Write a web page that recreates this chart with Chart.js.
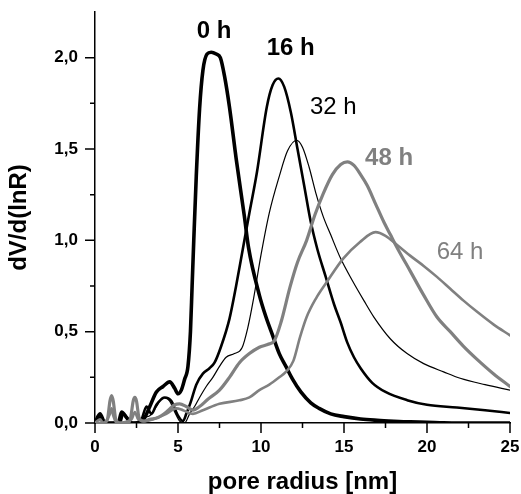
<!DOCTYPE html>
<html><head><meta charset="utf-8">
<script src="https://cdn.jsdelivr.net/npm/chart.js@4"></script>
<style>html,body{margin:0;padding:0;background:#fff;}canvas{display:block;}</style>
</head><body>
<canvas id="c" width="521" height="494"></canvas>
<script>
// ---- data (pore radius [nm] -> dV/d(lnR)) ----
const seriesNames = ['0 h', '16 h', '32 h', '48 h', '64 h'];

const r0h = [0, 0.3, 0.6, 1.4, 1.6, 1.9, 2.2, 2.7, 3.0, 3.3, 3.7, 4.1, 4.5, 4.8, 5.0, 5.2, 5.4, 5.6, 5.75, 5.85, 5.95, 6.1, 6.3, 6.5, 6.75, 7.0, 7.3, 7.55, 7.8, 8.1, 8.5, 9.0, 9.25, 9.9, 10.3, 10.7, 11.1, 11.5, 11.9, 12.4, 13.0, 13.5, 14.2, 15, 16, 17, 18, 19, 20, 21, 22, 25];
const v0h = [0, 0.05, 0.0, 0.0, 0.06, 0.03, 0.0, 0.0, 0.03, 0.09, 0.17, 0.2, 0.225, 0.19, 0.16, 0.18, 0.24, 0.31, 0.5, 0.75, 1.0, 1.35, 1.72, 1.93, 2.02, 2.03, 2.02, 2.0, 1.9, 1.73, 1.45, 1.13, 0.96, 0.7, 0.58, 0.48, 0.38, 0.31, 0.24, 0.17, 0.11, 0.08, 0.05, 0.035, 0.022, 0.015, 0.01, 0.006, 0.004, 0.001, 0, 0];

const r16h = [0, 0.3, 0.6, 1.5, 1.7, 2.0, 2.3, 2.8, 3.1, 3.4, 3.7, 4.2, 4.6, 5.0, 5.3, 5.5, 5.75, 6.1, 6.5, 6.9, 7.2, 7.6, 8.1, 8.5, 8.9, 9.3, 9.75, 10.35, 10.7, 11.05, 11.4, 11.8, 12.2, 12.6, 13.0, 13.4, 13.9, 14.4, 14.8, 15.2, 15.6, 16.0, 16.7, 17.5, 18.8, 20, 21.8, 23.5, 25];
const v16h = [0, 0.03, 0, 0, 0.05, 0.02, 0, 0.02, 0.09, 0.05, 0.1, 0.14, 0.12, 0.04, 0.01, 0.05, 0.11, 0.21, 0.27, 0.3, 0.33, 0.42, 0.57, 0.75, 0.95, 1.15, 1.37, 1.73, 1.85, 1.886, 1.84, 1.7, 1.5, 1.3, 1.1, 0.95, 0.8, 0.65, 0.55, 0.44, 0.36, 0.3, 0.22, 0.17, 0.125, 0.1, 0.085, 0.07, 0.055];

const r32h = [0, 0.3, 0.6, 2.5, 2.9, 3.3, 3.7, 4.1, 4.5, 4.8, 5.1, 5.4, 5.7, 6.0, 6.3, 6.7, 7.1, 7.5, 7.9, 8.4, 8.85, 9.2, 9.55, 10.0, 10.5, 11.1, 11.6, 12.15, 12.5, 12.9, 13.3, 13.75, 14.2, 14.8, 15.5, 16.2, 16.8, 17.8, 18.8, 19.8, 21, 22, 23.5, 25];
const v32h = [0, 0.02, 0, 0, 0.03, 0.04, 0.09, 0.14, 0.12, 0.06, 0.01, 0.0, 0.05, 0.09, 0.14, 0.2, 0.25, 0.31, 0.36, 0.38, 0.41, 0.52, 0.68, 0.92, 1.15, 1.35, 1.49, 1.548, 1.51, 1.4, 1.26, 1.13, 1.03, 0.9, 0.78, 0.67, 0.58, 0.46, 0.38, 0.325, 0.28, 0.245, 0.21, 0.18];

const r48h = [0, 0.5, 0.75, 0.9, 1.0, 1.1, 1.25, 1.5, 2.0, 2.15, 2.3, 2.4, 2.5, 2.65, 2.9, 3.3, 3.8, 4.3, 4.8, 5.1, 5.5, 5.9, 6.3, 6.8, 7.5, 8.1, 8.7, 9.3, 9.9, 10.4, 10.8, 11.2, 11.75, 12.2, 12.75, 13.25, 13.75, 14.3, 14.8, 15.2, 15.6, 16.0, 16.4, 16.9, 17.4, 17.8, 18.2, 19.0, 19.8, 20.6, 21.4, 22.2, 23.0, 24.0, 25];
const v48h = [0, 0, 0.02, 0.12, 0.15, 0.12, 0.02, 0, 0, 0.03, 0.12, 0.14, 0.12, 0.03, 0.01, 0.02, 0.03, 0.06, 0.1, 0.105, 0.09, 0.07, 0.09, 0.13, 0.18, 0.25, 0.33, 0.38, 0.415, 0.43, 0.45, 0.55, 0.745, 0.88, 1.0, 1.14, 1.256, 1.36, 1.415, 1.43, 1.41, 1.36, 1.3, 1.2, 1.1, 1.03, 0.96, 0.83, 0.7, 0.58, 0.5, 0.42, 0.35, 0.27, 0.2];

const r64h = [0, 0.3, 0.5, 0.9, 1.0, 1.1, 1.3, 2.2, 2.4, 2.6, 3.0, 3.5, 4.3, 4.9, 5.3, 5.9, 6.5, 7.5, 8.7, 9.3, 9.9, 10.5, 11.1, 11.5, 11.95, 12.35, 12.75, 13.3, 13.95, 14.95, 15.95, 16.9, 17.5, 18.2, 19.0, 19.8, 20.6, 21.4, 22.2, 23.0, 24.0, 25];
const v64h = [0, 0.02, 0, 0.05, 0.08, 0.04, 0, 0.02, 0.06, 0.02, 0.01, 0.02, 0.05, 0.08, 0.07, 0.05, 0.07, 0.105, 0.124, 0.14, 0.18, 0.21, 0.25, 0.28, 0.34, 0.47, 0.58, 0.68, 0.77, 0.9, 0.99, 1.045, 1.025, 0.975, 0.915, 0.86, 0.8, 0.735, 0.67, 0.61, 0.54, 0.48];

// ---- axis ticks ----
const xTicks = [0, 5, 10, 15, 20, 25];
const xTickLabels = ['0', '5', '10', '15', '20', '25'];
const xMinorTicks = [2.5, 7.5, 12.5, 17.5, 22.5];
const yTicks = [0, 0.5, 1.0, 1.5, 2.0];
const yTickLabels = ['0,0', '0,5', '1,0', '1,5', '2,0'];
const yMinorTicks = [0.25, 0.75, 1.25, 1.75];

// ---- styling ----
const FONT = '"Liberation Sans", Arial, Helvetica, sans-serif';
const GREY = '#808080';
const seriesStyle = [
  { color: '#000', width: 3.6, order: 3 },
  { color: '#000', width: 2.6, order: 2 },
  { color: '#000', width: 1.2, order: 4 },
  { color: GREY, width: 3.2, order: 1 },
  { color: GREY, width: 2.6, order: 0 }
];
// label anchors in data units (left, baseline)
const labelStyle = [
  { ax: 6.13, ay: 2.105, bold: true, color: '#000' },
  { ax: 10.34, ay: 2.014, bold: true, color: '#000' },
  { ax: 12.95, ay: 1.694, bold: false, color: '#000' },
  { ax: 16.27, ay: 1.411, bold: true, color: GREY },
  { ax: 20.58, ay: 0.90, bold: false, color: GREY }
];

const xs = [r0h, r16h, r32h, r48h, r64h];
const ys = [v0h, v16h, v32h, v48h, v64h];

const datasets = seriesNames.map((name, i) => ({
  label: name,
  data: xs[i].map((x, j) => ({ x: x, y: ys[i][j] })),
  borderColor: seriesStyle[i].color,
  borderWidth: seriesStyle[i].width,
  order: seriesStyle[i].order,
  pointRadius: 0,
  fill: false,
  cubicInterpolationMode: 'monotone',
  borderJoinStyle: 'round',
  borderCapStyle: 'round'
}));

const tickPlugin = {
  id: 'ticksAndLabels',
  afterDraw(chart) {
    const ctx = chart.ctx;
    const xs_ = chart.scales.x, ys_ = chart.scales.y;
    const area = chart.chartArea;
    ctx.save();
    ctx.strokeStyle = '#000';
    ctx.lineWidth = 1.5;
    ctx.beginPath();
    xTicks.forEach(v => { const p = xs_.getPixelForValue(v); ctx.moveTo(p, area.bottom); ctx.lineTo(p, area.bottom + 10); });
    xMinorTicks.forEach(v => { const p = xs_.getPixelForValue(v); ctx.moveTo(p, area.bottom); ctx.lineTo(p, area.bottom + 5); });
    yTicks.forEach(v => { const p = ys_.getPixelForValue(v); ctx.moveTo(area.left, p); ctx.lineTo(area.left - 10, p); });
    yMinorTicks.forEach(v => { const p = ys_.getPixelForValue(v); ctx.moveTo(area.left, p); ctx.lineTo(area.left - 5, p); });
    ctx.stroke();
    // series labels
    ctx.textAlign = 'left';
    ctx.textBaseline = 'alphabetic';
    seriesNames.forEach((name, i) => {
      const s = labelStyle[i];
      ctx.font = (s.bold ? 'bold ' : '') + '24px ' + FONT;
      ctx.fillStyle = s.color;
      ctx.fillText(name, xs_.getPixelForValue(s.ax), ys_.getPixelForValue(s.ay));
    });
    ctx.restore();
  }
};

new Chart(document.getElementById('c'), {
  type: 'line',
  data: { datasets },
  options: {
    responsive: false,
    animation: false,
    events: [],
    layout: { padding: { top: 12, right: 11, left: 0, bottom: 0 } },
    plugins: { legend: { display: false }, tooltip: { enabled: false } },
    scales: {
      x: {
        type: 'linear', min: 0, max: 25,
        grid: { display: false, drawTicks: true, tickLength: 10 },
        border: { display: true, color: '#000', width: 1.5 },
        afterBuildTicks: s => { s.ticks = xTicks.map(v => ({ value: v })); },
        afterFit: s => { s.height = 71; s.paddingLeft = 0; s.paddingRight = 0; },
        ticks: {
          padding: 4, color: '#000', maxRotation: 0, autoSkip: false,
          font: { family: FONT, size: 17, weight: 'bold' },
          callback: (v, i) => xTickLabels[i]
        },
        title: {
          display: true, text: 'pore radius [nm]', color: '#000',
          font: { family: FONT, size: 24, weight: 'bold', lineHeight: 1.0 },
          padding: { top: 0, bottom: 0 }
        }
      },
      y: {
        type: 'linear', min: 0, max: 2.25,
        grid: { display: false, drawTicks: true, tickLength: 10 },
        border: { display: true, color: '#000', width: 1.5 },
        afterBuildTicks: s => { s.ticks = yTicks.map(v => ({ value: v })); },
        afterFit: s => { s.width = 95; s.paddingTop = 0; s.paddingBottom = 0; },
        ticks: {
          padding: 7, color: '#000', autoSkip: false,
          font: { family: FONT, size: 17, weight: 'bold' },
          callback: (v, i) => yTickLabels[i]
        },
        title: {
          display: true, text: 'dV/d(lnR)', color: '#000',
          font: { family: FONT, size: 24, weight: 'bold' },
          padding: { top: 5, bottom: 0 }
        }
      }
    }
  },
  plugins: [tickPlugin]
});
</script>
</body></html>
